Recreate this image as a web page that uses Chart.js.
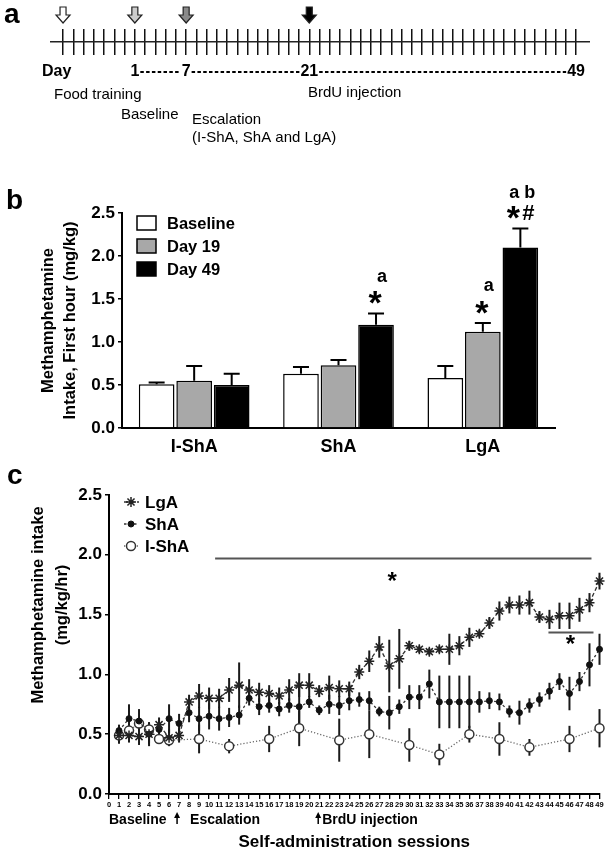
<!DOCTYPE html>
<html>
<head>
<meta charset="utf-8">
<script src="https://cdn.jsdelivr.net/npm/chart.js@4.4.0/dist/chart.umd.min.js"></script>
<style>
  html, body { margin: 0; padding: 0; background: #fff; }
  #fig { position: relative; width: 606px; height: 853px; overflow: hidden; background: #fff; }
  #fig canvas { position: absolute; left: 0; }
  .panel { position: absolute; font: bold 28px "Liberation Sans", Arial, sans-serif; line-height: 28px; color: #000; }
</style>
</head>
<body>
<div id="fig">
  <canvas id="timeline" width="606" height="170" style="top:0"></canvas>
  <canvas id="barChart" width="606" height="290" style="top:170px"></canvas>
  <canvas id="sessionChart" width="606" height="393" style="top:460px"></canvas>
  <div class="panel" style="left:4px; top:0px">a</div>
  <div class="panel" style="left:6px; top:186px">b</div>
  <div class="panel" style="left:7px; top:461px">c</div>
</div>
<script>
const FONT = '"Liberation Sans", Arial, sans-serif';
const NARROW = '"Liberation Sans Narrow", "Liberation Sans", Arial, sans-serif';
Chart.defaults.font.family = FONT;
Chart.defaults.color = '#000';

// ---- panel a : timeline ----
const timelineTicks = [0,1,2,3,4,5,6,7,8,9,10,11,12,13,14,15,16,17,18,19,20,21,22,23,24,25,
  26,27,28,29,30,31,32,33,34,35,36,37,38,39,40,41,42,43,44,45,46,47,48,49,50];
const arrowTicks = [0, 7, 12, 24];
const dayLabelTicks = [7, 12, 24, 50];
const dayLabels = ['1', '7', '21', '49'];

// ---- panel b : first hour intake ----
const groups = ['I-ShA', 'ShA', 'LgA'];
const baselineMean = [0.51, 0.63, 0.58];
const baselineSem = [0.02, 0.08, 0.14];
const day19Mean = [0.55, 0.73, 1.12];
const day19Sem = [0.17, 0.06, 0.10];
const day49Mean = [0.50, 1.20, 2.10];
const day49Sem = [0.13, 0.13, 0.22];
const markSeries = [2, 1, 2];
const markGroup = [1, 2, 2];
const markStar = ['*', '*', '*#'];
const markLetter = ['a', 'a', 'a b'];

// ---- panel c : sessions ----
const sessions = [1,2,3,4,5,6,7,8,9,10,11,12,13,14,15,16,17,18,19,20,21,22,23,24,25,
  26,27,28,29,30,31,32,33,34,35,36,37,38,39,40,41,42,43,44,45,46,47,48,49];
const lgaMean = [0.49,0.49,0.48,0.50,0.58,0.47,0.49,0.77,0.82,0.80,0.80,0.87,0.91,0.87,0.85,0.84,0.82,0.87,0.91,0.91,
  0.86,0.89,0.88,0.88,1.02,1.11,1.23,1.07,1.13,1.24,1.21,1.19,1.21,1.21,1.24,1.31,1.34,1.43,1.53,1.58,
  1.58,1.60,1.48,1.46,1.49,1.49,1.54,1.60,1.78];
const lgaSem = [0.07,0.06,0.07,0.08,0.06,0.07,0.06,0.06,0.10,0.09,0.08,0.10,0.19,0.09,0.08,0.07,0.07,0.09,0.10,0.10,
  0.05,0.10,0.07,0.06,0.06,0.09,0.09,0.22,0.25,0.04,0.03,0.03,0.03,0.13,0.08,0.08,0.03,0.05,0.08,0.07,
  0.08,0.10,0.05,0.08,0.11,0.11,0.10,0.08,0.07];
const shaMean = [0.53,0.63,0.61,0.50,0.54,0.63,0.59,0.68,0.63,0.65,0.63,0.64,0.66,0.80,0.73,0.74,0.71,0.74,0.73,0.77,
  0.70,0.75,0.74,0.78,0.79,0.78,0.69,0.68,0.73,0.81,0.81,0.92,0.77,0.77,0.77,0.77,0.77,0.78,0.77,0.69,
  0.68,0.74,0.79,0.86,0.94,0.84,0.94,1.08,1.21];
const shaSem = [0.05,0.12,0.10,0.10,0.06,0.12,0.08,0.08,0.10,0.11,0.10,0.08,0.08,0.06,0.07,0.06,0.06,0.06,0.20,0.05,
  0.04,0.08,0.08,0.08,0.06,0.08,0.04,0.14,0.06,0.10,0.10,0.12,0.22,0.22,0.22,0.22,0.09,0.07,0.07,0.05,
  0.10,0.06,0.06,0.07,0.07,0.14,0.08,0.18,0.13];
const ishaSessions = [1,2,3,4,5,6,9,12,16,19,23,26,30,33,36,39,42,46,49];
const ishaMean = [0.49,0.53,0.59,0.54,0.46,0.45,0.46,0.40,0.46,0.55,0.45,0.50,0.41,0.33,0.50,0.46,0.39,0.46,0.55];
const ishaSem = [0.06,0.05,0.05,0.06,0.04,0.04,0.12,0.06,0.11,0.15,0.18,0.20,0.14,0.09,0.07,0.14,0.07,0.11,0.16];
const sigFrom = [10.6, 43.9];
const sigTo = [48.2, 48.4];
const sigLevel = [1.97, 1.35];
const sigStarX = [28.3, 46.1];
const sigStarY = [1.82, 1.29];

// 画一个居中的文字（按实际字形高度）
function centerText(ctx, text, cx, cy) {
  const m = ctx.measureText(text);
  ctx.textAlign = 'center';
  ctx.textBaseline = 'alphabetic';
  ctx.fillText(text, cx, cy + (m.actualBoundingBoxAscent - m.actualBoundingBoxDescent) / 2);
}

function drawArrow(ctx, cx, top, fill) {
  ctx.beginPath();
  ctx.moveTo(cx - 3, top); ctx.lineTo(cx + 3, top); ctx.lineTo(cx + 3, top + 8);
  ctx.lineTo(cx + 7, top + 8); ctx.lineTo(cx, top + 16); ctx.lineTo(cx - 7, top + 8);
  ctx.lineTo(cx - 3, top + 8); ctx.closePath();
  ctx.fillStyle = fill;
  ctx.fill();
  ctx.strokeStyle = '#222';
  ctx.lineWidth = 1.2;
  ctx.stroke();
}

// ===== panel a =====
const timelineText = {
  id: 'timelineText',
  afterDraw(chart) {
    const {ctx, scales: {x}} = chart;
    ctx.save();
    const fills = ['#ffffff', '#cccccc', '#8a8a8a', '#000000'];
    arrowTicks.forEach((t, i) => drawArrow(ctx, x.getPixelForValue(t), 7, fills[i]));
    ctx.fillStyle = '#000';
    ctx.textBaseline = 'middle';
    ctx.font = 'bold 16px ' + FONT;
    ctx.textAlign = 'left';
    ctx.fillText('Day', 42, 72);
    ctx.textAlign = 'center';
    const xs = dayLabelTicks.map(t => x.getPixelForValue(t));
    dayLabels.forEach((l, i) => ctx.fillText(l, xs[i], 72));
    ctx.strokeStyle = '#000';
    ctx.lineWidth = 2;
    ctx.setLineDash([3.5, 2.3]);
    for (let i = 0; i < xs.length - 1; i++) {
      const a = xs[i] + ctx.measureText(dayLabels[i]).width / 2 + 1;
      const b = xs[i + 1] - ctx.measureText(dayLabels[i + 1]).width / 2 - 1;
      ctx.beginPath(); ctx.moveTo(a, 72); ctx.lineTo(b, 72); ctx.stroke();
    }
    ctx.setLineDash([]);
    ctx.font = '15px ' + FONT;
    ctx.textAlign = 'left';
    ctx.fillText('Food training', 54, 95);
    ctx.fillText('BrdU injection', 308, 93);
    ctx.fillText('Baseline', 121, 115);
    ctx.fillText('Escalation', 192, 120);
    ctx.fillText('(I-ShA, ShA and LgA)', 192, 138);
    ctx.restore();
  }
};

new Chart(document.getElementById('timeline'), {
  type: 'scatter',
  data: {datasets: []},
  options: {
    responsive: false,
    animation: false,
    devicePixelRatio: 1,
    layout: {padding: {left: 50, right: 16, top: 29, bottom: 115}},
    plugins: {legend: {display: false}, tooltip: {enabled: false}},
    scales: {
      x: {
        type: 'linear', min: -1.27, max: 51.36,
        afterBuildTicks: s => { s.ticks = timelineTicks.map(v => ({value: v})); },
        ticks: {display: false},
        grid: {color: '#111', lineWidth: 1.5, drawTicks: false},
        border: {display: false},
        afterFit: s => { s.height = 0; }
      },
      y: {
        min: -1, max: 1,
        afterBuildTicks: s => { s.ticks = [{value: 0}]; },
        ticks: {display: false},
        grid: {color: '#222', lineWidth: 1.5, drawTicks: false},
        border: {display: false},
        afterFit: s => { s.width = 0; }
      }
    }
  },
  plugins: [timelineText]
});

// ===== panel b =====
const barExtras = {
  id: 'barExtras',
  afterDatasetsDraw(chart) {
    const {ctx, scales: {y}} = chart;
    ctx.save();
    ctx.strokeStyle = '#000';
    ctx.lineWidth = 2;
    chart.data.datasets.forEach((ds, di) => {
      const meta = chart.getDatasetMeta(di);
      ds.data.forEach((v, i) => {
        const bx = meta.data[i].x;
        const top = y.getPixelForValue(v);
        const et = y.getPixelForValue(v + ds.sem[i]);
        ctx.beginPath();
        ctx.moveTo(bx, top); ctx.lineTo(bx, et);
        ctx.moveTo(bx - 8, et); ctx.lineTo(bx + 8, et);
        ctx.stroke();
      });
    });
    // 显著性标记
    ctx.fillStyle = '#000';
    markSeries.forEach((si, k) => {
      const gi = markGroup[k];
      const ds = chart.data.datasets[si];
      const bx = chart.getDatasetMeta(si).data[gi].x;
      const starY = y.getPixelForValue(ds.data[gi] + ds.sem[gi]) - 16;
      if (markStar[k] === '*#') {
        ctx.font = 'bold 34px ' + FONT;
        centerText(ctx, '*', bx - 7, starY);
        ctx.font = 'bold 22px ' + FONT;
        centerText(ctx, '#', bx + 8, starY);
        ctx.font = 'bold 18px ' + FONT;
        centerText(ctx, markLetter[k], bx + 2, starY - 21);
      } else {
        ctx.font = 'bold 34px ' + FONT;
        centerText(ctx, markStar[k], bx - 1, starY);
        ctx.font = 'bold 18px ' + FONT;
        centerText(ctx, markLetter[k], bx + 6, starY - 21);
      }
    });
    // 图例
    ctx.font = 'bold 16.5px ' + FONT;
    ctx.textAlign = 'left';
    ctx.textBaseline = 'middle';
    chart.data.datasets.forEach((ds, di) => {
      const cy = 53 + di * 23;
      ctx.fillStyle = ds.backgroundColor;
      ctx.fillRect(137, cy - 7, 19, 14);
      ctx.lineWidth = 1.5;
      ctx.strokeRect(137, cy - 7, 19, 14);
      ctx.fillStyle = '#000';
      ctx.fillText(ds.label, 167, cy + 1);
    });
    ctx.restore();
  }
};

new Chart(document.getElementById('barChart'), {
  type: 'bar',
  data: {
    labels: groups,
    datasets: [
      {label: 'Baseline', data: baselineMean, sem: baselineSem, backgroundColor: '#ffffff', borderColor: '#000', borderWidth: 1.5},
      {label: 'Day 19', data: day19Mean, sem: day19Sem, backgroundColor: '#a8a8a8', borderColor: '#000', borderWidth: 1.5},
      {label: 'Day 49', data: day49Mean, sem: day49Sem, backgroundColor: '#000000', borderColor: '#000', borderWidth: 1.5}
    ]
  },
  options: {
    responsive: false,
    animation: false,
    devicePixelRatio: 1,
    layout: {padding: {left: 0, right: 51, top: 43, bottom: 0}},
    datasets: {bar: {categoryPercentage: 0.78, barPercentage: 0.95}},
    plugins: {legend: {display: false}, tooltip: {enabled: false}},
    scales: {
      x: {
        grid: {display: false, drawTicks: false},
        border: {color: '#000', width: 2},
        ticks: {font: {size: 18, weight: 'bold'}, padding: 8, color: '#000'},
        afterFit: s => { s.height = 32; }
      },
      y: {
        min: 0, max: 2.5,
        ticks: {stepSize: 0.5, callback: v => v.toFixed(1), font: {size: 17, weight: 'bold'}, padding: 3, color: '#000'},
        grid: {drawOnChartArea: false, tickLength: 4, color: '#000', lineWidth: 1.5},
        border: {color: '#000', width: 2},
        title: {
          display: true,
          text: ['Methamphetamine', 'Intake, First hour (mg/kg)'],
          font: {size: 16.5, weight: 'bold', lineHeight: 22 / 16.5},
          padding: {top: 37, bottom: 0},
          color: '#000'
        },
        afterFit: s => { s.width = 122; }
      }
    }
  },
  plugins: [barExtras]
});

// ===== panel c =====
const errorBars = {
  id: 'errorBars',
  beforeDatasetsDraw(chart) {
    const {ctx, scales: {x, y}} = chart;
    ctx.save();
    ctx.strokeStyle = '#1a1a1a';
    ctx.lineWidth = 2;
    chart.data.datasets.forEach(ds => {
      ds.data.forEach((p, i) => {
        const e = ds.sem[i];
        const px = x.getPixelForValue(p.x);
        ctx.beginPath();
        ctx.moveTo(px, y.getPixelForValue(p.y - e));
        ctx.lineTo(px, y.getPixelForValue(p.y + e));
        ctx.stroke();
      });
    });
    ctx.restore();
  }
};

const sessionExtras = {
  id: 'sessionExtras',
  afterDraw(chart) {
    const {ctx, scales: {x, y}} = chart;
    ctx.save();
    ctx.fillStyle = '#000';
    // y 轴标题
    ctx.save();
    ctx.translate(38, 145);
    ctx.rotate(-Math.PI / 2);
    ctx.font = 'bold 16.5px ' + FONT;
    ctx.textAlign = 'center';
    ctx.textBaseline = 'middle';
    ctx.fillText('Methamphetamine intake', 0, 0);
    ctx.fillText('(mg/kg/hr)', 0, 24);
    ctx.restore();
    // 显著性横线
    ctx.strokeStyle = '#555';
    ctx.lineWidth = 2;
    sigFrom.forEach((f, i) => {
      const yy = y.getPixelForValue(sigLevel[i]);
      ctx.beginPath();
      ctx.moveTo(x.getPixelForValue(f), yy);
      ctx.lineTo(x.getPixelForValue(sigTo[i]), yy);
      ctx.stroke();
      ctx.font = 'bold 24px ' + FONT;
      centerText(ctx, '*', x.getPixelForValue(sigStarX[i]), y.getPixelForValue(sigStarY[i]));
    });
    // 图例
    ctx.font = 'bold 17px ' + FONT;
    chart.data.datasets.forEach((ds, di) => {
      const cy = 42 + di * 22;
      ctx.strokeStyle = ds.borderColor;
      ctx.lineWidth = 1.3;
      ctx.setLineDash(ds.borderDash);
      ctx.beginPath(); ctx.moveTo(124, cy); ctx.lineTo(139, cy); ctx.stroke();
      ctx.setLineDash([]);
      ctx.fillStyle = ds.pointBackgroundColor;
      ctx.strokeStyle = ds.pointBorderColor;
      ctx.lineWidth = ds.pointBorderWidth;
      Chart.helpers.drawPoint(ctx, {pointStyle: ds.pointStyle, radius: ds.pointRadius, rotation: 0, borderWidth: ds.pointBorderWidth}, 131, cy);
      ctx.fillStyle = '#000';
      ctx.textAlign = 'left';
      ctx.textBaseline = 'middle';
      ctx.fillText(ds.label, 145, cy + 1);
    });
    // 阶段说明
    ctx.font = 'bold 14px ' + FONT;
    ctx.textAlign = 'left';
    ctx.textBaseline = 'middle';
    const rowY = 360;
    ctx.fillText('Baseline', x.getPixelForValue(0), rowY);
    ctx.fillText('Escalation', x.getPixelForValue(8.1), rowY);
    ctx.fillText('BrdU injection', x.getPixelForValue(21.3), rowY);
    [6.8, 20.9].forEach(s => {
      const ax = x.getPixelForValue(s);
      ctx.beginPath();
      ctx.moveTo(ax, rowY - 8); ctx.lineTo(ax - 3, rowY - 2); ctx.lineTo(ax + 3, rowY - 2); ctx.closePath();
      ctx.fill();
      ctx.lineWidth = 1.5;
      ctx.strokeStyle = '#000';
      ctx.beginPath(); ctx.moveTo(ax, rowY - 3); ctx.lineTo(ax, rowY + 4); ctx.stroke();
    });
    ctx.restore();
  }
};

new Chart(document.getElementById('sessionChart'), {
  type: 'line',
  data: {
    datasets: [
      {
        label: 'LgA',
        data: sessions.map((s, i) => ({x: s, y: lgaMean[i]})),
        sem: lgaSem,
        borderColor: '#333', borderWidth: 1.3, borderDash: [4, 2.5],
        pointStyle: 'star', pointRadius: 5, pointBorderWidth: 1.5,
        pointBorderColor: '#222', pointBackgroundColor: '#222',
        clip: false, order: 0
      },
      {
        label: 'ShA',
        data: sessions.map((s, i) => ({x: s, y: shaMean[i]})),
        sem: shaSem,
        borderColor: '#333', borderWidth: 1.3, borderDash: [2.5, 2.5],
        pointStyle: 'circle', pointRadius: 3, pointBorderWidth: 1,
        pointBorderColor: '#111', pointBackgroundColor: '#111',
        clip: false, order: 1
      },
      {
        label: 'I-ShA',
        data: ishaSessions.map((s, i) => ({x: s, y: ishaMean[i]})),
        sem: ishaSem,
        borderColor: '#666', borderWidth: 1.3, borderDash: [1.2, 2],
        pointStyle: 'circle', pointRadius: 4.5, pointBorderWidth: 1.5,
        pointBorderColor: '#333', pointBackgroundColor: '#ffffff',
        clip: false, order: 2
      }
    ]
  },
  options: {
    responsive: false,
    animation: false,
    devicePixelRatio: 1,
    layout: {padding: {left: 0, right: 5, top: 35, bottom: 0}},
    plugins: {legend: {display: false}, tooltip: {enabled: false}},
    scales: {
      x: {
        type: 'linear', min: 0, max: 49,
        ticks: {stepSize: 1, autoSkip: false, maxRotation: 0, font: {family: NARROW, size: 7.5, weight: 'bold'}, padding: 1, color: '#000'},
        grid: {drawOnChartArea: false, tickLength: 5, color: '#000', lineWidth: 1.3},
        border: {color: '#000', width: 2},
        title: {display: true, text: 'Self-administration sessions', font: {size: 17, weight: 'bold'}, padding: {top: 0, bottom: 0}, color: '#000'},
        afterFit: s => { s.height = 59; }
      },
      y: {
        min: 0, max: 2.5,
        ticks: {stepSize: 0.5, callback: v => v.toFixed(1), font: {size: 17, weight: 'bold'}, padding: 3, color: '#000'},
        grid: {drawOnChartArea: false, tickLength: 4, color: '#000', lineWidth: 1.5},
        border: {color: '#000', width: 2},
        afterFit: s => { s.width = 109; }
      }
    }
  },
  plugins: [errorBars, sessionExtras]
});
</script>
</body>
</html>
